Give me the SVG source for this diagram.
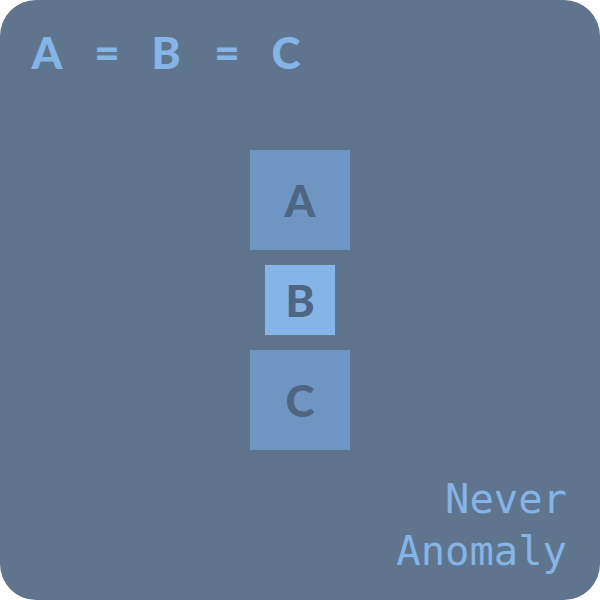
<svg xmlns="http://www.w3.org/2000/svg" width="600" height="600" viewBox="0 0 600 600">
<style>
.lbl{font-family:Lato,"Open Sans",sans-serif;font-weight:900;font-size:44px;fill:#4e6682;text-anchor:middle}
.title{font-family:Lato,"Open Sans",sans-serif;font-weight:900;font-size:44px;fill:#85b4e6;text-anchor:middle}
.mono{font-family:"DejaVu Sans Mono",monospace;font-size:40.5px;fill:#85b4e6;text-anchor:end}
</style>
<rect x="0" y="0" width="600" height="600" rx="36" fill="#5f758e"/>
<text class="title" x="47 77 107 137 166 197 227 257 286" y="69">A = B = C</text>
<g id="connectors"></g>
<g id="nodeA"><rect x="250" y="150" width="100" height="100" fill="#6f96c2"/><text class="lbl" x="300" y="217">A</text></g>
<g id="nodeB"><rect x="265" y="265" width="70" height="70" fill="#85b4e6"/><text class="lbl" x="300" y="317">B</text></g>
<g id="nodeC"><rect x="250" y="350" width="100" height="100" fill="#6f96c2"/><text class="lbl" x="300" y="417">C</text></g>
<text class="mono" x="567" y="513">Never</text>
<text class="mono" x="567" y="565">Anomaly</text>
</svg>
